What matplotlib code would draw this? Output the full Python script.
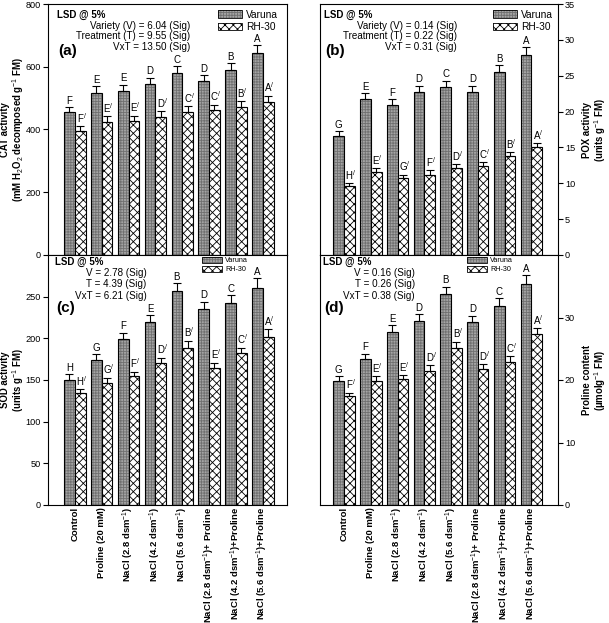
import numpy as np
import matplotlib
matplotlib.use("Agg")
import matplotlib.pyplot as plt
from matplotlib.patches import Patch

plt.rcParams['font.family'] = ['Liberation Sans', 'DejaVu Sans']
plt.rcParams['mathtext.fontset'] = 'custom'
plt.rcParams['mathtext.rm'] = 'Liberation Sans'
plt.rcParams['mathtext.it'] = 'Liberation Sans:italic'
plt.rcParams['mathtext.bf'] = 'Liberation Sans:bold'
plt.rcParams['hatch.linewidth'] = 0.6

treatments = ['Control', 'Proline (20 mM)',
              'NaCl (2.8 dsm$^{-1}$)', 'NaCl (4.2 dsm$^{-1}$)', 'NaCl (5.6 dsm$^{-1}$)',
              'NaCl (2.8 dsm$^{-1}$)+ Proline', 'NaCl (4.2 dsm$^{-1}$)+Proline',
              'NaCl (5.6 dsm$^{-1}$)+Proline']

# CAT activity
cat_varuna = [455, 517, 523, 545, 579, 553, 590, 645]
cat_varuna_err = [17, 21, 20, 20, 22, 21, 22, 24]
cat_rh = [395, 425, 426, 441, 457, 462, 473, 489]
cat_rh_err = [15, 17, 18, 17, 18, 17, 18, 19]
cat_varuna_lbl = ['F', 'E', 'E', 'D', 'C', 'D', 'B', 'A']
cat_rh_lbl = ['F', 'E', 'E', 'D', 'C', 'C', 'B', 'A']

# POX activity
pox_varuna = [16.6, 21.7, 20.9, 22.7, 23.4, 22.7, 25.5, 27.9]
pox_varuna_err = [0.7, 0.9, 0.8, 0.9, 0.9, 0.9, 1.0, 1.1]
pox_rh = [9.6, 11.6, 10.7, 11.2, 12.1, 12.4, 13.8, 15.0]
pox_rh_err = [0.4, 0.5, 0.5, 0.6, 0.6, 0.5, 0.5, 0.6]
pox_varuna_lbl = ['G', 'E', 'F', 'D', 'C', 'D', 'B', 'A']
pox_rh_lbl = ['H', 'E', 'G', 'F', 'D', 'C', 'B', 'A']

# SOD activity
sod_varuna = [150, 174, 199, 220, 257, 235, 243, 261]
sod_varuna_err = [7, 7, 8, 8, 9, 9, 9, 11]
sod_rh = [134, 147, 155, 170, 189, 164, 182, 202]
sod_rh_err = [5, 6, 5, 7, 8, 7, 7, 9]
sod_varuna_lbl = ['H', 'G', 'F', 'E', 'B', 'D', 'C', 'A']
sod_rh_lbl = ['H', 'G', 'F', 'D', 'B', 'E', 'C', 'A']

# Proline content
pro_varuna = [19.9, 23.3, 27.7, 29.5, 33.7, 29.3, 31.9, 35.4]
pro_varuna_err = [0.7, 0.9, 1.1, 1.0, 1.2, 1.0, 1.2, 1.4]
pro_rh = [17.4, 19.8, 20.1, 21.5, 25.1, 21.7, 22.9, 27.3]
pro_rh_err = [0.6, 0.8, 0.7, 0.9, 1.0, 0.8, 0.9, 1.0]
pro_varuna_lbl = ['G', 'F', 'E', 'D', 'B', 'D', 'C', 'A']
pro_rh_lbl = ['F', 'E', 'E', 'D', 'B', 'D', 'C', 'A']

W, H = 609, 623
fig = plt.figure(figsize=(W / 100, H / 100), dpi=100)


def box(l, t, r, b):
    return [l / W, 1 - b / H, (r - l) / W, (b - t) / H]


ax_a = fig.add_axes(box(48, 4, 287, 255))
ax_c = fig.add_axes(box(48, 255, 287, 505))
ax_b = fig.add_axes(box(320, 4, 558, 255))
ax_d = fig.add_axes(box(320, 255, 558, 505))

x = np.arange(len(treatments))
bw = 0.4
GRAY_FACE = '#a4a4a4'
GRAY_HATCH = '#707070'


def draw(ax, v, ve, r, re, vl, rl):
    ax.bar(x - bw / 2, v, bw, color=GRAY_FACE, hatch='++++++', edgecolor=GRAY_HATCH, lw=0)
    ax.bar(x - bw / 2, v, bw, fill=False, edgecolor='black', lw=0.8)
    ax.bar(x + bw / 2, r, bw, color='white', hatch='xxxx', edgecolor='black', lw=0)
    ax.bar(x + bw / 2, r, bw, fill=False, edgecolor='black', lw=0.8)
    ax.errorbar(x - bw / 2, v, yerr=[np.zeros(len(v)), ve], fmt='none', ecolor='black',
                elinewidth=0.8, capsize=3, capthick=0.8)
    ax.errorbar(x + bw / 2, r, yerr=[np.zeros(len(r)), re], fmt='none', ecolor='black',
                elinewidth=0.8, capsize=3, capthick=0.8)
    for i in range(len(v)):
        ax.annotate(vl[i], (x[i] - bw / 2, v[i] + ve[i]), xytext=(0, 1),
                    textcoords='offset points', ha='center', va='bottom', fontsize=7)
        ax.annotate(rl[i] + '$^{/}$', (x[i] + bw / 2, r[i] + re[i]), xytext=(1, 1),
                    textcoords='offset points', ha='center', va='bottom', fontsize=7)
    ax.tick_params(axis='y', labelsize=6.6, length=3.5, width=0.8, pad=1.5, direction='out')
    ax.tick_params(axis='x', length=0, pad=1.5)
    for s in ax.spines.values():
        s.set_linewidth(0.8)


def legend(ax, fs, anchor, hl, hh):
    h1 = (Patch(facecolor=GRAY_FACE, hatch='++++++', edgecolor=GRAY_HATCH, lw=0),
          Patch(fill=False, edgecolor='black', lw=0.6))
    h2 = (Patch(facecolor='white', hatch='xxxx', edgecolor='black', lw=0),
          Patch(fill=False, edgecolor='black', lw=0.6))
    ax.legend([h1, h2], ['Varuna', 'RH-30'], loc='upper left', bbox_to_anchor=anchor,
              frameon=False, fontsize=fs, handlelength=hl, handleheight=hh,
              labelspacing=0.25, handletextpad=0.4, borderaxespad=0, borderpad=0)


draw(ax_a, cat_varuna, cat_varuna_err, cat_rh, cat_rh_err, cat_varuna_lbl, cat_rh_lbl)
draw(ax_b, pox_varuna, pox_varuna_err, pox_rh, pox_rh_err, pox_varuna_lbl, pox_rh_lbl)
draw(ax_c, sod_varuna, sod_varuna_err, sod_rh, sod_rh_err, sod_varuna_lbl, sod_rh_lbl)
draw(ax_d, pro_varuna, pro_varuna_err, pro_rh, pro_rh_err, pro_varuna_lbl, pro_rh_lbl)

ax_a.set_xlim(-1.0, 7.9)
ax_c.set_xlim(-1.0, 7.9)
ax_b.set_xlim(-0.9, 8.0)
ax_d.set_xlim(-0.9, 8.0)

ax_a.set_ylim(0, 800)
ax_a.set_yticks([0, 200, 400, 600, 800])
ax_c.set_ylim(0, 300)
ax_c.set_yticks([0, 50, 100, 150, 200, 250])
ax_b.set_ylim(0, 35)
ax_b.set_yticks(range(0, 36, 5))
ax_d.set_ylim(0, 40)
ax_d.set_yticks([0, 10, 20, 30])

for ax in (ax_b, ax_d):
    ax.yaxis.tick_right()
    ax.yaxis.set_label_position('right')

ax_a.set_xticks([])
ax_b.set_xticks([])
for ax in (ax_c, ax_d):
    ax.set_xticks(x)
    ax.set_xticklabels(treatments, rotation=90, fontsize=6.8, fontweight='bold')

lab = dict(fontsize=6.9, fontweight='bold', linespacing=1.05)
ax_a.set_ylabel('CAT activity\n(mM H$_2$O$_2$ decomposed g$^{-1}$ FM)', **lab)
ax_c.set_ylabel('SOD activity\n(units g$^{-1}$ FM)', **lab)
ax_b.set_ylabel('POX activity\n(units g$^{-1}$ FM)', **lab)
ax_d.set_ylabel('Proline content\n(µmolg$^{-1}$ FM)', **lab)
for ax in (ax_a, ax_c):
    ax.yaxis.set_label_coords(-0.09, 0.5)
for ax in (ax_b, ax_d):
    ax.yaxis.set_label_coords(1.10, 0.5)


def stats(ax, lines, panel, xl, xr, ys, dy, yp):
    t = ax.transAxes
    ax.text(xl, ys, 'LSD @ 5%', transform=t, fontsize=7, fontweight='bold',
            ha='left', va='center')
    for k, s in enumerate(lines):
        ax.text(xr, ys - (k + 1) * dy, s, transform=t, fontsize=7.1, ha='right', va='center')
    ax.text(xl + 0.004, yp, panel, transform=t, fontsize=11, fontweight='bold',
            ha='left', va='center')


stats(ax_a, ['Variety (V) = 6.04 (Sig)', 'Treatment (T) = 9.55 (Sig)', 'VxT = 13.50 (Sig)'],
      '(a)', 0.038, 0.594, 0.956, 0.042, 0.812)
stats(ax_b, ['Variety (V) = 0.14 (Sig)', 'Treatment (T) = 0.22 (Sig)', 'VxT = 0.31 (Sig)'],
      '(b)', 0.017, 0.576, 0.956, 0.042, 0.812)
stats(ax_c, ['V = 2.78 (Sig)', 'T = 4.39 (Sig)', 'VxT = 6.21 (Sig)'],
      '(c)', 0.029, 0.413, 0.972, 0.045, 0.788)
stats(ax_d, ['V = 0.16 (Sig)', 'T = 0.26 (Sig)', 'VxT = 0.38 (Sig)'],
      '(d)', 0.013, 0.399, 0.972, 0.045, 0.788)

legend(ax_a, 7.3, (0.711, 0.978), 2.4, 0.7)
legend(ax_b, 7.3, (0.727, 0.978), 2.4, 0.7)
legend(ax_c, 5.2, (0.644, 0.992), 2.8, 0.8)
legend(ax_d, 5.2, (0.617, 0.992), 2.8, 0.8)

fig.savefig('out.png', dpi=100)
